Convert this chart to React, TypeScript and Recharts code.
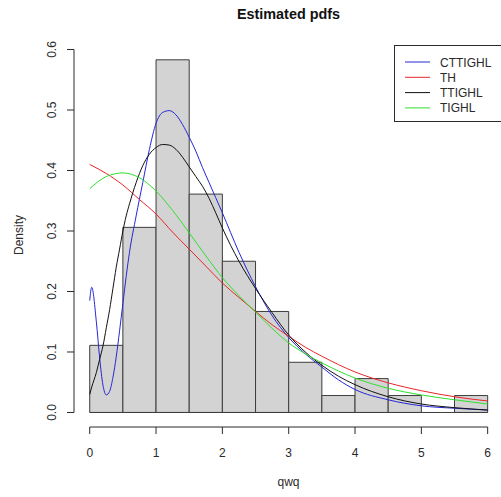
import { ComposedChart, Line, XAxis, YAxis, ReferenceArea, ReferenceLine } from 'recharts';

// histogram (bin width 0.5)
const binStarts = [0, 0.5, 1, 1.5, 2, 2.5, 3, 3.5, 4, 4.5, 5, 5.5];
const binWidth = 0.5;
const densities = [0.111, 0.306, 0.583, 0.361, 0.25, 0.167, 0.083, 0.028, 0.056, 0.028, 0, 0.028];

// fitted pdfs
const fineX = [
  0, 0.03, 0.1, 0.15, 0.2, 0.25, 0.3, 0.35, 0.4, 0.45, 0.5, 0.55, 0.6, 0.7, 0.8, 0.9, 1, 1.1, 1.2,
  1.3, 1.4, 1.5, 1.6, 1.7, 1.8, 1.9, 2, 2.25, 2.5, 2.75, 3, 3.25, 3.5, 3.75, 4, 4.5, 5, 5.5, 6,
];
const cttighl = [
  0.185, 0.207, 0.15, 0.09, 0.045, 0.029, 0.035, 0.058, 0.092, 0.135, 0.18, 0.225, 0.265, 0.325, 0.38,
  0.435, 0.478, 0.496, 0.499, 0.492, 0.476, 0.455, 0.432, 0.405, 0.38, 0.355, 0.33, 0.265, 0.208,
  0.16, 0.124, 0.097, 0.075, 0.054, 0.038, 0.021, 0.011, 0.007, 0.004,
];
const ttighl = [
  0.03, 0.042, 0.066, 0.088, 0.11, 0.14, 0.17, 0.205, 0.24, 0.27, 0.3, 0.325, 0.345, 0.38, 0.408,
  0.427, 0.438, 0.443, 0.442, 0.435, 0.422, 0.406, 0.39, 0.374, 0.354, 0.33, 0.305, 0.25, 0.205,
  0.165, 0.128, 0.1, 0.078, 0.06, 0.046, 0.026, 0.014, 0.008, 0.004,
];

const coarseX = [0, 0.25, 0.5, 0.75, 1, 1.25, 1.5, 1.75, 2, 2.25, 2.5, 2.75, 3, 3.25, 3.5, 4, 4.5, 5, 5.5, 6];
const th = [
  0.41, 0.395, 0.376, 0.352, 0.328, 0.298, 0.27, 0.242, 0.214, 0.19, 0.167, 0.145, 0.126, 0.108,
  0.093, 0.067, 0.049, 0.036, 0.026, 0.019,
];
const tighl = [
  0.37, 0.39, 0.396, 0.388, 0.366, 0.334, 0.297, 0.259, 0.223, 0.193, 0.166, 0.139, 0.115, 0.097,
  0.082, 0.057, 0.04, 0.029, 0.021, 0.014,
];

const xTicks = [0, 1, 2, 3, 4, 5, 6];
const yTicks = [0, 0.1, 0.2, 0.3, 0.4, 0.5, 0.6];

const series = [
  { name: 'CTTIGHL', color: '#2626d6', xs: fineX, ys: cttighl },
  { name: 'TH', color: '#e8262a', xs: coarseX, ys: th },
  { name: 'TTIGHL', color: '#111111', xs: fineX, ys: ttighl },
  { name: 'TIGHL', color: '#2ee02e', xs: coarseX, ys: tighl },
];

const font = '"Liberation Sans", Arial, sans-serif';
const ink = '#2a2a2a';

const XTick = ({ x, payload }: any) => (
  <text x={x} y={456.5} textAnchor="middle" fontSize={12} fontFamily={font} fill={ink}>
    {payload.value}
  </text>
);

const YTick = ({ y, payload }: any) => (
  <text
    transform={`translate(55.5,${y}) rotate(-90)`}
    textAnchor="middle"
    fontSize={12}
    fontFamily={font}
    fill={ink}
  >
    {Number(payload.value).toFixed(1)}
  </text>
);

export default function App() {
  return (
    <div style={{ position: 'absolute', left: 0, top: 0, width: 501, height: 497, background: '#fff', overflow: 'hidden' }}>
      <ComposedChart width={501} height={497} margin={{ top: 35, right: 0, bottom: 0, left: 0 }}>
        <XAxis
          type="number"
          dataKey="x"
          domain={[-0.237, 6.201]}
          ticks={xTicks}
          allowDataOverflow
          height={70}
          axisLine={false}
          tickSize={7}
          tickLine={{ stroke: ink }}
          tick={XTick}
          interval={0}
        />
        <YAxis
          type="number"
          domain={[-0.024, 0.624]}
          ticks={yTicks}
          allowDataOverflow
          width={74}
          axisLine={false}
          tickSize={7}
          tickLine={{ stroke: ink }}
          tick={YTick}
          interval={0}
        />
        {binStarts.map((s, i) => (
          <ReferenceArea
            key={s}
            x1={s}
            x2={s + binWidth}
            y1={0}
            y2={densities[i]}
            fill="#d3d3d3"
            fillOpacity={1}
            stroke="#3c3c3c"
            strokeWidth={1}
            ifOverflow="visible"
          />
        ))}
        <ReferenceLine segment={[{ x: 0, y: 0 }, { x: 6, y: 0 }]} stroke="#3c3c3c" ifOverflow="visible" />
        <ReferenceLine segment={[{ x: 0, y: -0.024 }, { x: 6, y: -0.024 }]} stroke={ink} ifOverflow="visible" />
        <ReferenceLine segment={[{ x: -0.237, y: 0 }, { x: -0.237, y: 0.6 }]} stroke={ink} ifOverflow="visible" />
        {series.map((s) => (
          <Line
            key={s.name}
            data={s.xs.map((x, i) => ({ x, y: s.ys[i] }))}
            dataKey="y"
            type="monotone"
            stroke={s.color}
            strokeWidth={1}
            dot={false}
            activeDot={false}
            isAnimationActive={false}
          />
        ))}
      </ComposedChart>
      <svg
        width={501}
        height={497}
        style={{ position: 'absolute', left: 0, top: 0, pointerEvents: 'none' }}
        fontFamily={font}
      >
        <text x={288.5} y={19} textAnchor="middle" fontSize={14.4} fontWeight="bold" fill="#111">
          Estimated pdfs
        </text>
        <text x={288.5} y={486} textAnchor="middle" fontSize={12} fill={ink}>
          qwq
        </text>
        <text transform="translate(22.5,235) rotate(-90)" textAnchor="middle" fontSize={12} fill={ink}>
          Density
        </text>
        <rect x={394.5} y={45.5} width={120} height={76} fill="#fff" stroke={ink} />
        {series.map((s, i) => (
          <g key={s.name}>
            <line x1={405} x2={430} y1={62 + i * 15.3} y2={62 + i * 15.3} stroke={s.color} />
            <text x={440} y={66.5 + i * 15.3} fontSize={12} fill={ink}>
              {s.name}
            </text>
          </g>
        ))}
      </svg>
    </div>
  );
}
